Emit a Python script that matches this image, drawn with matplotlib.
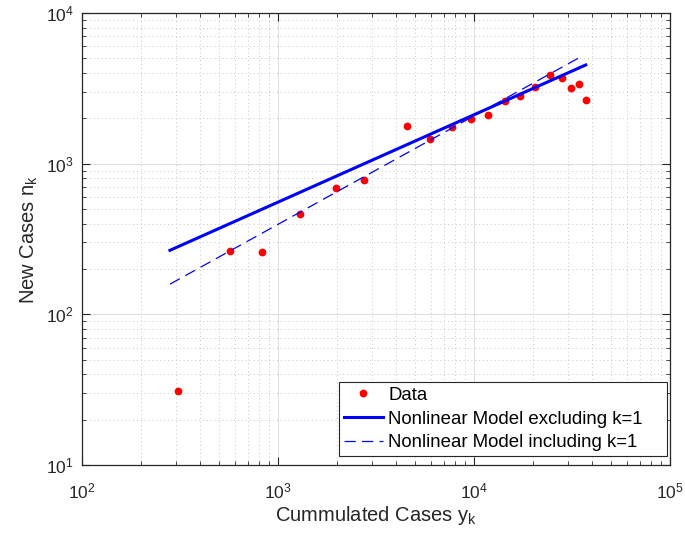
import matplotlib
matplotlib.use("Agg")
import matplotlib.pyplot as plt
import numpy as np

# Data
cum_cases = [308, 570, 832, 1291, 1982, 2748, 4529, 5998, 7745, 9704,
             11800, 14420, 17230, 20370, 24320, 28110, 31290, 34510, 37360]
new_cases = [30.8, 263, 261, 461, 689, 774, 1775, 1462, 1738, 1987,
             2098, 2600, 2818, 3251, 3899, 3690, 3155, 3404, 2648]

# Model curves (straight in log-log), endpoints
model_excl_x = [281, 37150]
model_excl_y = [266, 4520]
model_incl_x = [281, 34670]
model_incl_y = [158.6, 5080]

plt.rcParams['font.family'] = ['Liberation Sans', 'DejaVu Sans']
plt.rcParams['mathtext.fontset'] = 'custom'
plt.rcParams['mathtext.rm'] = 'Liberation Sans'
plt.rcParams['mathtext.it'] = 'Liberation Sans:italic'

fig = plt.figure(figsize=(6.85, 5.35), dpi=100)
ax = fig.add_axes([82/685, 1-465/535, (670-82)/685, (465-13)/535])

ax.loglog(cum_cases, new_cases, 'o', color='#ff0000', markersize=5.6,
          markeredgewidth=0, label='Data')
ax.plot(model_excl_x, model_excl_y, '-', color='#0000ff', lw=2.2,
        label='Nonlinear Model excluding k=1')
ax.plot(model_incl_x, model_incl_y, '--', color='#0000ff', lw=0.9,
        dashes=(9, 5), label='Nonlinear Model including k=1')

ax.set_xlim(1e2, 1e5)
ax.set_ylim(1e1, 1e4)

ax.grid(True, which='major', color='#dedede', lw=0.8, ls='-')
ax.grid(True, which='minor', color='#c8c8c8', lw=0.7, ls=(0, (1, 3)))
ax.set_axisbelow(True)

ax.tick_params(which='both', direction='in', top=True, right=True,
               colors='#262626', labelcolor='#262626')
ax.tick_params(which='major', length=6, width=0.8, labelsize=12.5)
ax.tick_params(which='minor', length=3, width=0.6)
ax.tick_params(axis='x', which='major', pad=12)
ax.tick_params(axis='y', which='major', pad=6)
for s in ax.spines.values():
    s.set_color('#262626')
    s.set_linewidth(0.9)

ax.set_xlabel('Cummulated Cases y$_\\mathregular{k}$', fontsize=14.5,
              color='#262626', labelpad=2)
ax.set_ylabel('New Cases n$_\\mathregular{k}$', fontsize=14.5,
              color='#262626', labelpad=4)

leg = ax.legend(loc='lower left', bbox_to_anchor=(0.437, 0.020, 0.558, 0.164),
                mode='expand', fontsize=13.4, frameon=True, fancybox=False,
                edgecolor='#262626', framealpha=1, borderpad=0.25,
                handlelength=2.1, handletextpad=0.3, labelspacing=0.36,
                borderaxespad=0.0)
leg.get_frame().set_linewidth(0.8)

fig.savefig('out.png', dpi=100)
